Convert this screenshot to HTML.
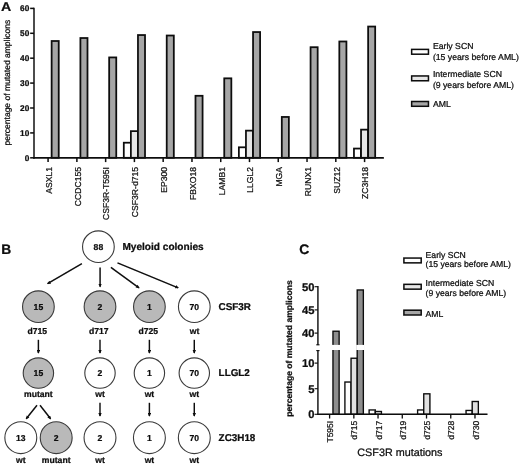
<!DOCTYPE html>
<html lang="en"><head><meta charset="utf-8"><title>Figure</title>
<style>html,body{margin:0;padding:0;background:#fff;}svg{display:block;}text{font-family:"Liberation Sans", sans-serif;fill:#0a0a0a;stroke:#0a0a0a;stroke-width:0.22px;stroke-linejoin:round;text-rendering:geometricPrecision;}.b{font-weight:bold;}</style></head><body>
<svg width="520" height="466" viewBox="0 0 520 466">
<rect width="520" height="466" fill="#fff"/>
<filter id="soft" x="0" y="0" width="520" height="466" filterUnits="userSpaceOnUse"><feGaussianBlur stdDeviation="0.35"/></filter>
<g filter="url(#soft)">
<defs><marker id="ah" viewBox="0 0 10 10" refX="8" refY="5" markerWidth="2.8" markerHeight="2.6" orient="auto-start-reverse" markerUnits="strokeWidth"><path d="M0,0.5 L10,5 L0,9.5 Z" fill="#111"/></marker></defs>
<text class="b" transform="translate(1.1,11.1) scale(1,0.89)" font-size="14.2">A</text>
<text transform="translate(9.7,82.6) rotate(-90)" text-anchor="middle" font-size="8.5">percentage of mutated amplicons</text>
<rect x="51.64" y="40.99" width="7.08" height="116.81" fill="#a6a6a6" stroke="#0a0a0a" stroke-width="1.75"/>
<line x1="48.10" y1="157.80" x2="48.10" y2="162.10" stroke="#0a0a0a" stroke-width="1.5"/>
<text transform="translate(51.90,167.0) rotate(-90)" text-anchor="end" font-size="8.6">ASXL1</text>
<rect x="80.41" y="38.01" width="7.08" height="119.79" fill="#a6a6a6" stroke="#0a0a0a" stroke-width="1.75"/>
<line x1="76.87" y1="157.80" x2="76.87" y2="162.10" stroke="#0a0a0a" stroke-width="1.5"/>
<text transform="translate(80.67,167.0) rotate(-90)" text-anchor="end" font-size="8.6">CCDC155</text>
<rect x="109.18" y="57.43" width="7.08" height="100.37" fill="#a6a6a6" stroke="#0a0a0a" stroke-width="1.75"/>
<line x1="105.64" y1="157.80" x2="105.64" y2="162.10" stroke="#0a0a0a" stroke-width="1.5"/>
<text transform="translate(109.44,167.0) rotate(-90)" text-anchor="end" font-size="8.6">CSF3R-T595I</text>
<rect x="123.79" y="142.71" width="7.08" height="15.09" fill="#ffffff" stroke="#0a0a0a" stroke-width="1.75"/>
<rect x="130.87" y="131.13" width="7.08" height="26.67" fill="#e7e7e7" stroke="#0a0a0a" stroke-width="1.75"/>
<rect x="137.95" y="35.02" width="7.08" height="122.78" fill="#a6a6a6" stroke="#0a0a0a" stroke-width="1.75"/>
<line x1="134.41" y1="157.80" x2="134.41" y2="162.10" stroke="#0a0a0a" stroke-width="1.5"/>
<text transform="translate(138.21,167.0) rotate(-90)" text-anchor="end" font-size="8.6">CSF3R-d715</text>
<rect x="166.72" y="35.52" width="7.08" height="122.28" fill="#a6a6a6" stroke="#0a0a0a" stroke-width="1.75"/>
<line x1="163.18" y1="157.80" x2="163.18" y2="162.10" stroke="#0a0a0a" stroke-width="1.5"/>
<text transform="translate(166.98,167.0) rotate(-90)" text-anchor="end" font-size="8.6">EP300</text>
<rect x="195.49" y="95.78" width="7.08" height="62.03" fill="#a6a6a6" stroke="#0a0a0a" stroke-width="1.75"/>
<line x1="191.95" y1="157.80" x2="191.95" y2="162.10" stroke="#0a0a0a" stroke-width="1.5"/>
<text transform="translate(195.75,167.0) rotate(-90)" text-anchor="end" font-size="8.6">FBXO18</text>
<rect x="210.10" y="157.53" width="7.08" height="0.27" fill="#ffffff" stroke="#0a0a0a" stroke-width="0.6"/>
<rect x="217.18" y="157.28" width="7.08" height="0.52" fill="#e7e7e7" stroke="#0a0a0a" stroke-width="0.6"/>
<rect x="224.26" y="78.34" width="7.08" height="79.46" fill="#a6a6a6" stroke="#0a0a0a" stroke-width="1.75"/>
<line x1="220.72" y1="157.80" x2="220.72" y2="162.10" stroke="#0a0a0a" stroke-width="1.5"/>
<text transform="translate(224.52,167.0) rotate(-90)" text-anchor="end" font-size="8.6">LAMB1</text>
<rect x="238.87" y="147.32" width="7.08" height="10.48" fill="#ffffff" stroke="#0a0a0a" stroke-width="1.75"/>
<rect x="245.95" y="130.64" width="7.08" height="27.16" fill="#e7e7e7" stroke="#0a0a0a" stroke-width="1.75"/>
<rect x="253.03" y="32.03" width="7.08" height="125.77" fill="#a6a6a6" stroke="#0a0a0a" stroke-width="1.75"/>
<line x1="249.49" y1="157.80" x2="249.49" y2="162.10" stroke="#0a0a0a" stroke-width="1.5"/>
<text transform="translate(253.29,167.0) rotate(-90)" text-anchor="end" font-size="8.6">LLGL2</text>
<rect x="281.80" y="116.94" width="7.08" height="40.86" fill="#a6a6a6" stroke="#0a0a0a" stroke-width="1.75"/>
<line x1="278.26" y1="157.80" x2="278.26" y2="162.10" stroke="#0a0a0a" stroke-width="1.5"/>
<text transform="translate(282.06,167.0) rotate(-90)" text-anchor="end" font-size="8.6">MGA</text>
<rect x="303.49" y="157.65" width="7.08" height="0.15" fill="#e7e7e7" stroke="#0a0a0a" stroke-width="0.6"/>
<rect x="310.57" y="47.22" width="7.08" height="110.58" fill="#a6a6a6" stroke="#0a0a0a" stroke-width="1.75"/>
<line x1="307.03" y1="157.80" x2="307.03" y2="162.10" stroke="#0a0a0a" stroke-width="1.5"/>
<text transform="translate(310.83,167.0) rotate(-90)" text-anchor="end" font-size="8.6">RUNX1</text>
<rect x="332.26" y="157.65" width="7.08" height="0.15" fill="#e7e7e7" stroke="#0a0a0a" stroke-width="0.6"/>
<rect x="339.34" y="41.49" width="7.08" height="116.31" fill="#a6a6a6" stroke="#0a0a0a" stroke-width="1.75"/>
<line x1="335.80" y1="157.80" x2="335.80" y2="162.10" stroke="#0a0a0a" stroke-width="1.5"/>
<text transform="translate(339.60,167.0) rotate(-90)" text-anchor="end" font-size="8.6">SUZ12</text>
<rect x="353.95" y="148.56" width="7.08" height="9.24" fill="#ffffff" stroke="#0a0a0a" stroke-width="1.75"/>
<rect x="361.03" y="129.64" width="7.08" height="28.16" fill="#e7e7e7" stroke="#0a0a0a" stroke-width="1.75"/>
<rect x="368.11" y="26.55" width="7.08" height="131.25" fill="#a6a6a6" stroke="#0a0a0a" stroke-width="1.75"/>
<line x1="364.57" y1="157.80" x2="364.57" y2="162.10" stroke="#0a0a0a" stroke-width="1.5"/>
<text transform="translate(368.37,167.0) rotate(-90)" text-anchor="end" font-size="8.6">ZC3H18</text>
<line x1="34.00" y1="7.65" x2="34.00" y2="158.80" stroke="#0a0a0a" stroke-width="1.5"/>
<line x1="33.25" y1="157.90" x2="383.85" y2="157.90" stroke="#0a0a0a" stroke-width="1.7"/>
<line x1="30.15" y1="157.80" x2="34.00" y2="157.80" stroke="#0a0a0a" stroke-width="1.5"/>
<text class="b" x="29.30" y="160.55" text-anchor="end" font-size="8.3">0</text>
<line x1="30.15" y1="132.90" x2="34.00" y2="132.90" stroke="#0a0a0a" stroke-width="1.5"/>
<text class="b" x="29.30" y="135.65" text-anchor="end" font-size="8.3">10</text>
<line x1="30.15" y1="108.00" x2="34.00" y2="108.00" stroke="#0a0a0a" stroke-width="1.5"/>
<text class="b" x="29.30" y="110.75" text-anchor="end" font-size="8.3">20</text>
<line x1="30.15" y1="83.10" x2="34.00" y2="83.10" stroke="#0a0a0a" stroke-width="1.5"/>
<text class="b" x="29.30" y="85.85" text-anchor="end" font-size="8.3">30</text>
<line x1="30.15" y1="58.20" x2="34.00" y2="58.20" stroke="#0a0a0a" stroke-width="1.5"/>
<text class="b" x="29.30" y="60.95" text-anchor="end" font-size="8.3">40</text>
<line x1="30.15" y1="33.30" x2="34.00" y2="33.30" stroke="#0a0a0a" stroke-width="1.5"/>
<text class="b" x="29.30" y="36.05" text-anchor="end" font-size="8.3">50</text>
<line x1="30.15" y1="8.40" x2="34.00" y2="8.40" stroke="#0a0a0a" stroke-width="1.5"/>
<text class="b" x="29.30" y="11.15" text-anchor="end" font-size="8.3">60</text>
<rect x="411.65" y="49.40" width="16.80" height="4.80" fill="#ffffff" stroke="#0a0a0a" stroke-width="1.5"/>
<rect x="411.65" y="75.95" width="16.80" height="4.80" fill="#e7e7e7" stroke="#0a0a0a" stroke-width="1.5"/>
<rect x="411.65" y="101.50" width="16.80" height="4.80" fill="#a6a6a6" stroke="#0a0a0a" stroke-width="1.5"/>
<text x="432.90" y="49.10" font-size="8.70">Early SCN</text>
<text x="432.90" y="59.50" font-size="8.70">(15 years before AML)</text>
<text x="432.90" y="76.70" font-size="8.70">Intermediate SCN</text>
<text x="432.90" y="87.50" font-size="8.70">(9 years before AML)</text>
<text x="432.90" y="107.40" font-size="8.70">AML</text>
<text class="b" x="1.2" y="253.8" font-size="13.8">B</text>
<circle cx="98.40" cy="246.70" r="15.85" fill="#fff" stroke="#3a3a3a" stroke-width="1.1"/>
<text class="b" x="98.40" y="249.80" text-anchor="middle" font-size="8.6">88</text>
<text class="b" x="122.4" y="249.9" font-size="10.1">Myeloid colonies</text>
<circle cx="38.40" cy="306.70" r="15.85" fill="#b9b9b9" stroke="#3a3a3a" stroke-width="1.1"/>
<text class="b" x="38.40" y="309.80" text-anchor="middle" font-size="8.6">15</text>
<circle cx="100.00" cy="306.70" r="15.85" fill="#b9b9b9" stroke="#3a3a3a" stroke-width="1.1"/>
<text class="b" x="100.00" y="309.80" text-anchor="middle" font-size="8.6">2</text>
<circle cx="149.40" cy="306.70" r="15.85" fill="#b9b9b9" stroke="#3a3a3a" stroke-width="1.1"/>
<text class="b" x="149.40" y="309.80" text-anchor="middle" font-size="8.6">1</text>
<circle cx="194.30" cy="306.70" r="15.85" fill="#fff" stroke="#3a3a3a" stroke-width="1.1"/>
<text class="b" x="194.30" y="309.80" text-anchor="middle" font-size="8.6">70</text>
<text class="b" x="37.30" y="333.60" text-anchor="middle" font-size="8.6">d715</text>
<text class="b" x="98.80" y="333.60" text-anchor="middle" font-size="8.6">d717</text>
<text class="b" x="148.20" y="333.60" text-anchor="middle" font-size="8.6">d725</text>
<text class="b" x="194.50" y="333.60" text-anchor="middle" font-size="8.6">wt</text>
<circle cx="38.40" cy="373.10" r="15.20" fill="#b9b9b9" stroke="#3a3a3a" stroke-width="1.1"/>
<text class="b" x="38.40" y="376.20" text-anchor="middle" font-size="8.6">15</text>
<circle cx="100.00" cy="373.10" r="15.20" fill="#fff" stroke="#3a3a3a" stroke-width="1.1"/>
<text class="b" x="100.00" y="376.20" text-anchor="middle" font-size="8.6">2</text>
<circle cx="149.40" cy="373.10" r="15.20" fill="#fff" stroke="#3a3a3a" stroke-width="1.1"/>
<text class="b" x="149.40" y="376.20" text-anchor="middle" font-size="8.6">1</text>
<circle cx="194.30" cy="373.10" r="15.20" fill="#fff" stroke="#3a3a3a" stroke-width="1.1"/>
<text class="b" x="194.30" y="376.20" text-anchor="middle" font-size="8.6">70</text>
<text class="b" x="38.40" y="397.00" text-anchor="middle" font-size="8.6">mutant</text>
<text class="b" x="100.00" y="397.00" text-anchor="middle" font-size="8.6">wt</text>
<text class="b" x="149.40" y="397.00" text-anchor="middle" font-size="8.6">wt</text>
<text class="b" x="194.30" y="397.00" text-anchor="middle" font-size="8.6">wt</text>
<circle cx="20.80" cy="437.70" r="15.95" fill="#fff" stroke="#3a3a3a" stroke-width="1.1"/>
<text class="b" x="20.80" y="440.80" text-anchor="middle" font-size="8.6">13</text>
<circle cx="56.20" cy="437.70" r="15.95" fill="#b9b9b9" stroke="#3a3a3a" stroke-width="1.1"/>
<text class="b" x="56.20" y="440.80" text-anchor="middle" font-size="8.6">2</text>
<circle cx="100.00" cy="437.70" r="15.95" fill="#fff" stroke="#3a3a3a" stroke-width="1.1"/>
<text class="b" x="100.00" y="440.80" text-anchor="middle" font-size="8.6">2</text>
<circle cx="149.40" cy="437.70" r="15.95" fill="#fff" stroke="#3a3a3a" stroke-width="1.1"/>
<text class="b" x="149.40" y="440.80" text-anchor="middle" font-size="8.6">1</text>
<circle cx="194.30" cy="437.70" r="15.95" fill="#fff" stroke="#3a3a3a" stroke-width="1.1"/>
<text class="b" x="194.30" y="440.80" text-anchor="middle" font-size="8.6">70</text>
<text class="b" x="20.80" y="462.90" text-anchor="middle" font-size="8.6">wt</text>
<text class="b" x="56.20" y="462.90" text-anchor="middle" font-size="8.6">mutant</text>
<text class="b" x="100.00" y="462.90" text-anchor="middle" font-size="8.6">wt</text>
<text class="b" x="149.40" y="462.90" text-anchor="middle" font-size="8.6">wt</text>
<text class="b" x="194.30" y="462.90" text-anchor="middle" font-size="8.6">wt</text>
<text class="b" x="218.6" y="310.2" font-size="9.9">CSF3R</text>
<text class="b" x="218.6" y="376.0" font-size="9.9">LLGL2</text>
<text class="b" x="218.6" y="441.3" font-size="9.9">ZC3H18</text>
<line x1="81.90" y1="263.60" x2="47.60" y2="283.70" stroke="#0a0a0a" stroke-width="1.45" marker-end="url(#ah)"/>
<line x1="100.10" y1="267.50" x2="100.10" y2="286.80" stroke="#0a0a0a" stroke-width="1.45" marker-end="url(#ah)"/>
<line x1="110.90" y1="267.30" x2="139.00" y2="287.80" stroke="#0a0a0a" stroke-width="1.45" marker-end="url(#ah)"/>
<line x1="117.50" y1="262.80" x2="178.20" y2="287.80" stroke="#0a0a0a" stroke-width="1.45" marker-end="url(#ah)"/>
<line x1="38.40" y1="339.80" x2="38.40" y2="353.00" stroke="#0a0a0a" stroke-width="1.45" marker-end="url(#ah)"/>
<line x1="100.00" y1="339.80" x2="100.00" y2="353.00" stroke="#0a0a0a" stroke-width="1.45" marker-end="url(#ah)"/>
<line x1="149.40" y1="339.80" x2="149.40" y2="353.00" stroke="#0a0a0a" stroke-width="1.45" marker-end="url(#ah)"/>
<line x1="194.30" y1="339.80" x2="194.30" y2="353.00" stroke="#0a0a0a" stroke-width="1.45" marker-end="url(#ah)"/>
<line x1="100.00" y1="402.80" x2="100.00" y2="416.00" stroke="#0a0a0a" stroke-width="1.45" marker-end="url(#ah)"/>
<line x1="149.40" y1="402.80" x2="149.40" y2="416.00" stroke="#0a0a0a" stroke-width="1.45" marker-end="url(#ah)"/>
<line x1="194.30" y1="402.80" x2="194.30" y2="416.00" stroke="#0a0a0a" stroke-width="1.45" marker-end="url(#ah)"/>
<line x1="37.00" y1="405.20" x2="26.20" y2="418.80" stroke="#0a0a0a" stroke-width="1.45" marker-end="url(#ah)"/>
<line x1="40.00" y1="405.20" x2="50.60" y2="418.80" stroke="#0a0a0a" stroke-width="1.45" marker-end="url(#ah)"/>
<text class="b" x="299.2" y="254" font-size="13.9">C</text>
<rect x="332.98" y="331.24" width="6.15" height="83.06" fill="#8e8e8e" stroke="#0a0a0a" stroke-width="1.35"/>
<rect x="331.98" y="344.90" width="8.15" height="5.10" fill="#fff"/>
<line x1="329.60" y1="414.30" x2="329.60" y2="418.50" stroke="#0a0a0a" stroke-width="1.3"/>
<text transform="translate(333.20,420.8) rotate(-90)" text-anchor="end" font-size="8.5">T595I</text>
<rect x="344.91" y="382.04" width="6.15" height="32.26" fill="#ffffff" stroke="#0a0a0a" stroke-width="1.35"/>
<rect x="351.06" y="358.24" width="6.15" height="56.06" fill="#e1e1e1" stroke="#0a0a0a" stroke-width="1.35"/>
<rect x="357.21" y="289.95" width="6.15" height="124.35" fill="#8e8e8e" stroke="#0a0a0a" stroke-width="1.35"/>
<rect x="356.21" y="344.90" width="8.15" height="5.10" fill="#fff"/>
<line x1="353.83" y1="414.30" x2="353.83" y2="418.50" stroke="#0a0a0a" stroke-width="1.3"/>
<text transform="translate(357.43,420.8) rotate(-90)" text-anchor="end" font-size="8.5">d715</text>
<rect x="369.13" y="409.95" width="6.15" height="4.35" fill="#ffffff" stroke="#0a0a0a" stroke-width="1.35"/>
<rect x="375.28" y="411.48" width="6.15" height="2.82" fill="#e1e1e1" stroke="#0a0a0a" stroke-width="1.35"/>
<line x1="378.06" y1="414.30" x2="378.06" y2="418.50" stroke="#0a0a0a" stroke-width="1.3"/>
<text transform="translate(381.66,420.8) rotate(-90)" text-anchor="end" font-size="8.5">d717</text>
<line x1="402.29" y1="414.30" x2="402.29" y2="418.50" stroke="#0a0a0a" stroke-width="1.3"/>
<text transform="translate(405.89,420.8) rotate(-90)" text-anchor="end" font-size="8.5">d719</text>
<rect x="417.60" y="409.95" width="6.15" height="4.35" fill="#ffffff" stroke="#0a0a0a" stroke-width="1.35"/>
<rect x="423.75" y="393.82" width="6.15" height="20.48" fill="#e1e1e1" stroke="#0a0a0a" stroke-width="1.35"/>
<line x1="426.52" y1="414.30" x2="426.52" y2="418.50" stroke="#0a0a0a" stroke-width="1.3"/>
<text transform="translate(430.12,420.8) rotate(-90)" text-anchor="end" font-size="8.5">d725</text>
<line x1="450.75" y1="414.30" x2="450.75" y2="418.50" stroke="#0a0a0a" stroke-width="1.3"/>
<text transform="translate(454.35,420.8) rotate(-90)" text-anchor="end" font-size="8.5">d728</text>
<rect x="466.06" y="410.46" width="6.15" height="3.84" fill="#ffffff" stroke="#0a0a0a" stroke-width="1.35"/>
<rect x="472.20" y="401.50" width="6.15" height="12.80" fill="#e1e1e1" stroke="#0a0a0a" stroke-width="1.35"/>
<line x1="474.98" y1="414.30" x2="474.98" y2="418.50" stroke="#0a0a0a" stroke-width="1.3"/>
<text transform="translate(478.58,420.8) rotate(-90)" text-anchor="end" font-size="8.5">d730</text>
<line x1="317.90" y1="286.10" x2="317.90" y2="345.00" stroke="#0a0a0a" stroke-width="1.4"/>
<line x1="317.90" y1="350.30" x2="317.90" y2="415.00" stroke="#0a0a0a" stroke-width="1.4"/>
<line x1="316.30" y1="344.80" x2="319.50" y2="344.80" stroke="#0a0a0a" stroke-width="1.1"/>
<line x1="316.30" y1="350.60" x2="319.50" y2="350.60" stroke="#0a0a0a" stroke-width="1.1"/>
<line x1="317.20" y1="414.30" x2="487.50" y2="414.30" stroke="#0a0a0a" stroke-width="1.6"/>
<line x1="314.60" y1="286.70" x2="317.90" y2="286.70" stroke="#0a0a0a" stroke-width="1.1"/>
<text class="b" x="314.50" y="290.50" text-anchor="end" font-size="11.2">50</text>
<line x1="314.60" y1="309.90" x2="317.90" y2="309.90" stroke="#0a0a0a" stroke-width="1.1"/>
<text class="b" x="314.50" y="313.70" text-anchor="end" font-size="11.2">45</text>
<line x1="314.60" y1="333.10" x2="317.90" y2="333.10" stroke="#0a0a0a" stroke-width="1.1"/>
<text class="b" x="314.50" y="336.90" text-anchor="end" font-size="11.2">40</text>
<line x1="314.60" y1="363.10" x2="317.90" y2="363.10" stroke="#0a0a0a" stroke-width="1.1"/>
<text class="b" x="314.50" y="366.90" text-anchor="end" font-size="11.2">10</text>
<line x1="314.60" y1="388.70" x2="317.90" y2="388.70" stroke="#0a0a0a" stroke-width="1.1"/>
<text class="b" x="314.50" y="392.50" text-anchor="end" font-size="11.2">5</text>
<line x1="314.60" y1="414.30" x2="317.90" y2="414.30" stroke="#0a0a0a" stroke-width="1.1"/>
<text class="b" x="314.50" y="418.10" text-anchor="end" font-size="11.2">0</text>
<text class="b" transform="translate(291.6,348.5) rotate(-90)" text-anchor="middle" font-size="8.55">percentage of mutated amplicons</text>
<text x="357.3" y="456.3" font-size="10.8">CSF3R mutations</text>
<rect x="403.90" y="258.05" width="17.30" height="4.80" fill="#ffffff" stroke="#0a0a0a" stroke-width="1.5"/>
<rect x="403.90" y="284.35" width="17.30" height="4.80" fill="#e7e7e7" stroke="#0a0a0a" stroke-width="1.5"/>
<rect x="403.90" y="310.20" width="17.30" height="4.80" fill="#a6a6a6" stroke="#0a0a0a" stroke-width="1.5"/>
<text x="425.60" y="257.90" font-size="8.65">Early SCN</text>
<text x="425.60" y="267.30" font-size="8.65">(15 years before AML)</text>
<text x="425.60" y="286.25" font-size="8.65">Intermediate SCN</text>
<text x="425.60" y="296.00" font-size="8.65">(9 years before AML)</text>
<text x="425.60" y="316.50" font-size="8.65">AML</text>
</g></svg></body></html>
